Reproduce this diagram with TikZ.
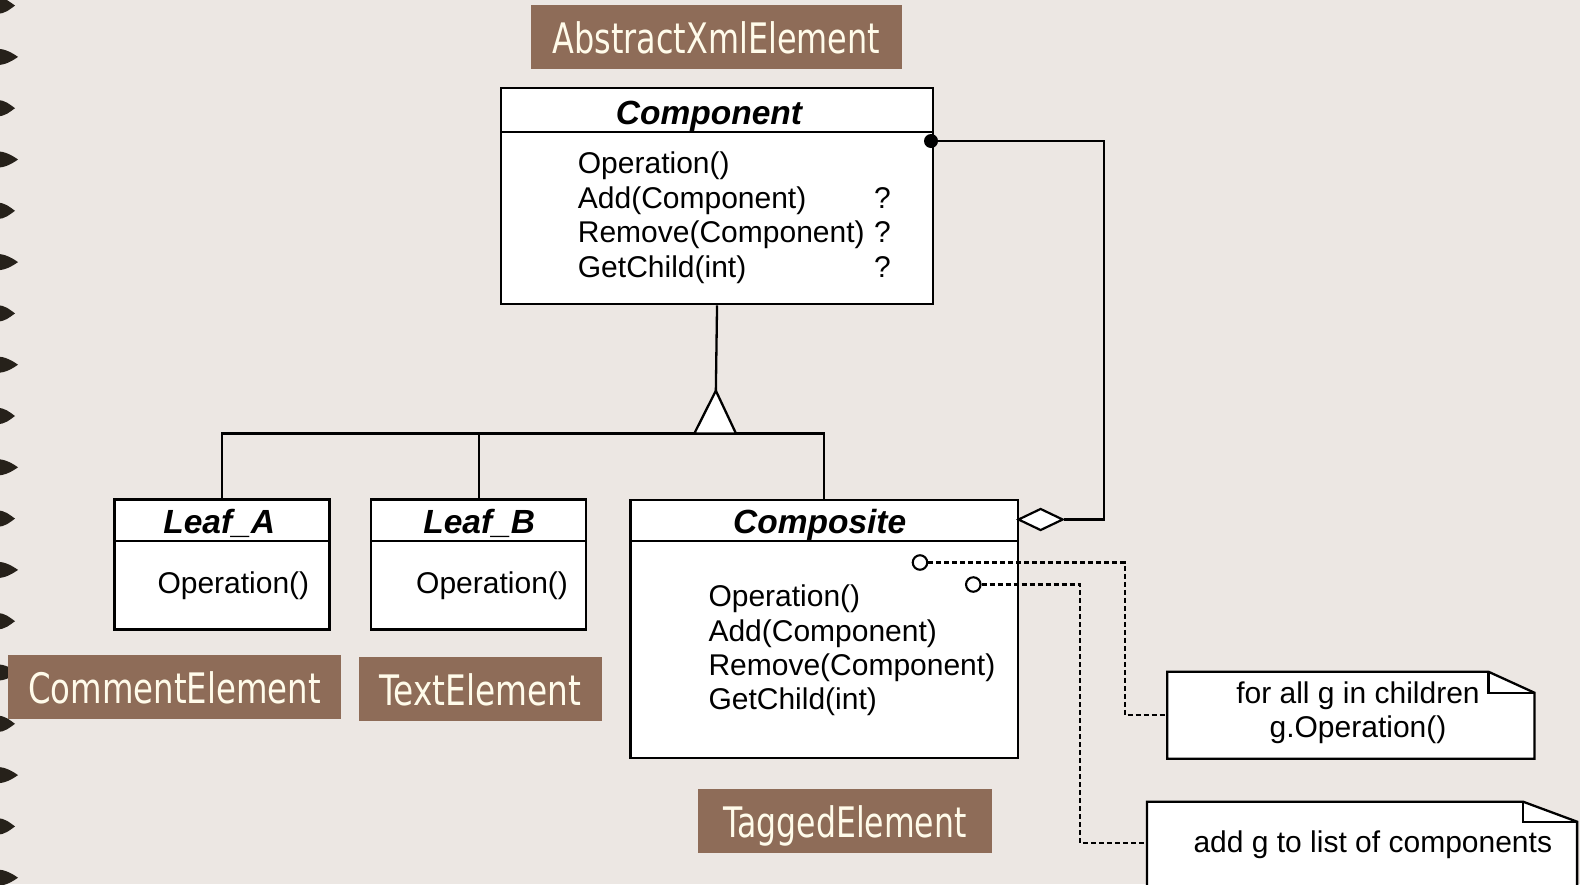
\documentclass[tikz,border=0pt]{standalone}
\usepackage{fontspec}
\setmainfont{Liberation Sans}
\newfontfamily\lblfont{DejaVu Sans}
\usetikzlibrary{shapes.geometric}
\definecolor{bgc}{RGB}{236,231,227}
\definecolor{brn}{RGB}{142,108,88}
\definecolor{crm}{RGB}{255,251,234}
\definecolor{thorncol}{RGB}{38,33,26}
\newcommand\lw[2]{\resizebox{#1pt}{\height}{#2}}
\begin{document}
\begin{tikzpicture}[x=1pt,y=-1pt,
  umlbox/.style={draw, line width=2.4pt, fill=white, rectangle, inner sep=0, anchor=north west},
  ttl/.style={anchor=base, inner sep=0, font=\fontsize{33.5}{34}\selectfont\bfseries\itshape},
  op/.style={anchor=base west, inner sep=0, font=\fontsize{30}{34}\selectfont},
  notetxt/.style={anchor=base, inner sep=0, font=\fontsize{30}{34}\selectfont},
  lbl/.style={fill=brn, text=crm, inner sep=0, minimum height=64pt, text height=33pt, text depth=0pt, font=\lblfont\fontsize{42}{42}\selectfont},
  conn/.style={line width=2.3pt},
  dsh/.style={line width=2.1pt, dash pattern=on 5pt off 3pt},
  noteline/.style={line width=2.3pt, fill=white, line join=miter},
  noteph/.style={rectangle, inner sep=0, anchor=north west},
  pin/.style={circle, draw, fill=white, line width=2.1pt, inner sep=0, minimum size=14.5pt}]
\useasboundingbox (0,0) rectangle (1580,884);
\clip (0,0) rectangle (1580,884);
\fill[bgc] (0,0) rectangle (1580,884);

% left edge thorns
\foreach \i in {0,...,17} {
  \pgfmathsetmacro\ty{5.6+51.3*\i}
  \pgfmathsetmacro\tl{mod(\i,2)==0 ? 15 : 18}
  \fill[thorncol] (-3,\ty-8) .. controls (5,\ty-8.5) and ({\tl-5},\ty-3.5) .. (\tl,\ty)
     .. controls ({\tl-5},\ty+3.5) and (5,\ty+8.5) .. (-3,\ty+8) -- cycle;
}

% brown labels
\node[lbl, minimum width=370.7pt] (axe) at (716.3,36.5) {\lw{327.7}{AbstractXmlElement}};
\node[lbl, minimum width=332.5pt] (ce) at (174.7,686.8) {\lw{292.6}{CommentElement}};
\node[lbl, minimum width=243.2pt] (te) at (480.4,688.8) {\lw{202}{TextElement}};
\node[lbl, minimum width=293.4pt] (tge) at (845,820.8) {\lw{243.3}{TaggedElement}};

% Component
\node[umlbox, minimum width=431.7pt, minimum height=216.3pt] (component) at (500,86.7) {};
\draw[line width=2.4pt] ([yshift=-45pt]component.north west) -- ([yshift=-45pt]component.north east);
\node[ttl] (componentT) at (709,124.5) {Component};
\node[op] (c1) at (577.7,173.5) {Operation()};
\node[op] (c2) at (577.7,208) {Add(Component)};
\node[op] (c3) at (577.7,242.5) {Remove(Component)};
\node[op] (c4) at (577.7,277.5) {GetChild(int)};
\node[op] (q2) at (874,208) {?};
\node[op] (q3) at (874,242.5) {?};
\node[op] (q4) at (874,277.5) {?};

% Leaf_A
\node[umlbox, minimum width=215pt, minimum height=130pt] (leafA) at (113.3,498.3) {};
\draw[line width=2.4pt] ([yshift=-42.7pt]leafA.north west) -- ([yshift=-42.7pt]leafA.north east);
\node[ttl] (leafAT) at (219.2,533) {Leaf\_A};
\node[op] (la1) at (157.3,593) {Operation()};

% Leaf_B
\node[umlbox, minimum width=215pt, minimum height=130pt] (leafB) at (370,498.3) {};
\draw[line width=2.4pt] ([yshift=-42.7pt]leafB.north west) -- ([yshift=-42.7pt]leafB.north east);
\node[ttl] (leafBT) at (479.2,533) {Leaf\_B};
\node[op] (lb1) at (416,593) {Operation()};

% Composite
\node[umlbox, minimum width=387.4pt, minimum height=258pt] (compo) at (629.3,498.8) {};
\draw[line width=2.4pt] ([yshift=-42.2pt]compo.north west) -- ([yshift=-42.2pt]compo.north east);
\node[ttl] (compoT) at (819.7,533) {Composite};
\node[op] (k1) at (708.3,606.5) {Operation()};
\node[op] (k2) at (708.3,641) {Add(Component)};
\node[op] (k3) at (708.3,675.5) {Remove(Component)};
\node[op] (k4) at (708.3,709.5) {GetChild(int)};

% inheritance
\coordinate (bar) at (0,433.5);
\coordinate (apex) at (715.85,390.7);
\draw[conn] (leafA.north) |- (compo.north |- bar) -- (compo.north);
\draw[conn] (leafB.north) -- (leafB.north |- bar);
\draw[conn] (component.south) -- (apex);
\draw[conn, fill=white, line join=miter] (apex) -- (736,433.5) -- (694.3,433.5) -- cycle;

% aggregation
\node[diamond, draw, fill=white, line width=2.2pt, inner sep=0, aspect=2,
      minimum width=45pt, minimum height=22pt, anchor=west] (agg) at (1017,519.5) {};
\node[circle, fill=black, inner sep=0, minimum size=14pt] (dot) at (931,141) {};
\coordinate (aggx) at (1104,0);
\draw[conn] (agg.east) -- (agg.east -| aggx) |- (dot);

% notes
\node[noteph, minimum width=366.7pt, minimum height=86.6pt] (note1) at (1167.3,671.7) {};
\draw[noteline] (note1.north west) -- ([xshift=-46pt]note1.north east) -- ([yshift=-21pt]note1.north east)
   -- (note1.south east) -- (note1.south west) -- cycle;
\draw[line width=2.3pt] ([xshift=-46pt]note1.north east) -- ([xshift=-46pt,yshift=-21pt]note1.north east)
   -- ([yshift=-21pt]note1.north east);
\node[notetxt] (n1a) at (1358,703.5) {for all g in children};
\node[notetxt] (n1b) at (1358,737.5) {g.Operation()};

\node[noteph, minimum width=429.7pt, minimum height=82.6pt] (note2) at (1147,801.7) {};
\draw[noteline] (note2.north west) -- ([xshift=-54pt]note2.north east) -- ([yshift=-20pt]note2.north east)
   -- ([yshift=-120pt]note2.north east) -- ([yshift=-120pt]note2.north west) -- cycle;
\draw[line width=2.3pt] ([xshift=-54pt]note2.north east) -- ([xshift=-54pt,yshift=-20pt]note2.north east)
   -- ([yshift=-20pt]note2.north east);
\node[op] (n2a) at (1193.3,852) {add g to list of components};

% pins and dashed links
\node[pin] (pin1) at (920,562.5) {};
\node[pin] (pin2) at (973.3,584.5) {};
\coordinate (d1x) at (1125,0);
\coordinate (d2x) at (1080,0);
\draw[dsh] (pin1.east) -- (pin1.east -| d1x) |- (note1.west);
\draw[dsh] (pin2.east) -- (pin2.east -| d2x) |- (note2.west);
\end{tikzpicture}
\end{document}
